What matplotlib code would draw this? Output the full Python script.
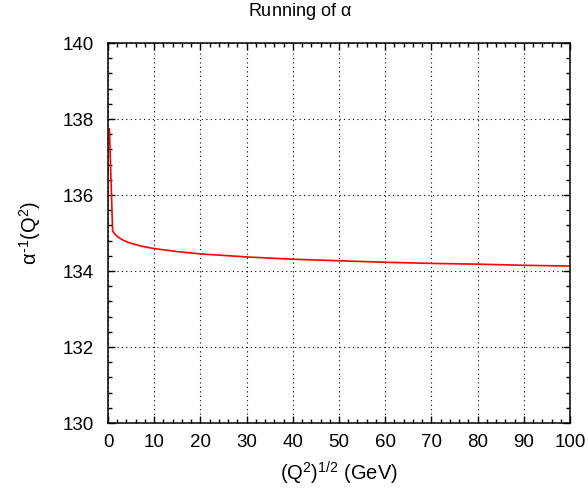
import matplotlib
matplotlib.use("Agg")
import matplotlib.pyplot as plt
from matplotlib.ticker import MultipleLocator

# values
q_gev = [0.3, 0.5, 0.65, 0.8, 1.0, 1.5, 2, 3, 4, 5, 7, 10, 15, 20, 25, 30,
         40, 50, 60, 70, 80, 90, 100]
alpha_inv = [137.74, 136.98, 136.40, 135.83, 135.05, 134.97, 134.91, 134.83,
             134.77, 134.73, 134.66, 134.59, 134.51, 134.45, 134.41, 134.37,
             134.31, 134.27, 134.23, 134.20, 134.18, 134.15, 134.13]

plt.rcParams['font.family'] = ['Liberation Sans', 'DejaVu Sans']
plt.rcParams['mathtext.fontset'] = 'custom'
plt.rcParams['mathtext.rm'] = 'Liberation Sans'
plt.rcParams['mathtext.it'] = 'Liberation Sans'

fig = plt.figure(figsize=(5.88, 4.96), dpi=100)
ax = fig.add_axes([108 / 588, 1 - 423 / 496, 462 / 588, 380 / 496])

ax.plot(q_gev, alpha_inv, color='red', lw=1.2)

ax.set_xlim(0, 100)
ax.set_ylim(130, 140)
ax.xaxis.set_major_locator(MultipleLocator(10))
ax.xaxis.set_minor_locator(MultipleLocator(2))
ax.yaxis.set_major_locator(MultipleLocator(2))
ax.yaxis.set_minor_locator(MultipleLocator(0.4))
ax.tick_params(which='both', direction='in', top=True, right=True,
               labelsize=13.5, width=1.0)
ax.tick_params(which='major', length=5)
ax.tick_params(which='minor', length=3)
ax.tick_params(axis='x', which='major', pad=8)
ax.tick_params(axis='y', which='major', pad=10)
for s in ax.spines.values():
    s.set_linewidth(1.1)

ax.grid(True, which='major', color='black', linestyle=(0, (1, 3)), lw=0.8)

# gnuplot centres the title on the whole canvas
fig.text(300 / 588, 1 - 12 / 496, r'Running of $\alpha$', fontsize=13,
         ha='center', va='center')
ax.set_xlabel(r'(Q$^{2}$)$^{1/2}$ (GeV)', fontsize=14.5, labelpad=6)
ax.set_ylabel(r'$\alpha^{\text{-}1}$(Q$^{2}$)', fontsize=14.5, labelpad=14)

fig.savefig('out.png', dpi=100)
